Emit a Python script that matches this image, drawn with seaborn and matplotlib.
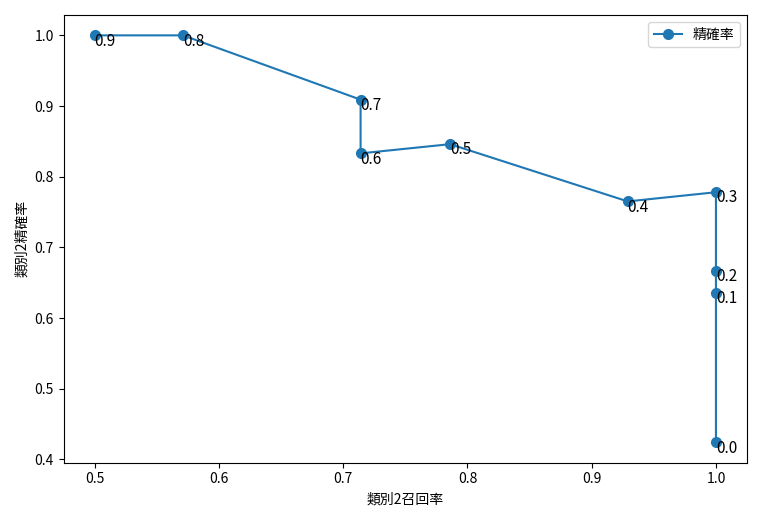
import matplotlib
matplotlib.use("Agg")
import matplotlib.pyplot as plt
import seaborn as sns
import pandas as pd

recall = [0.5, 0.571, 0.714, 0.714, 0.786, 0.929, 1.0, 1.0, 1.0, 1.0]
precision = [1.0, 1.0, 0.909, 0.833, 0.846, 0.765, 0.778, 0.667, 0.636, 0.424]
thresholds = ["0.9", "0.8", "0.7", "0.6", "0.5", "0.4", "0.3", "0.2", "0.1", "0.0"]

plt.rcParams['font.family'] = ['Noto Sans CJK TC', 'DejaVu Sans']
df = pd.DataFrame({"recall": recall, "precision": precision})

fig, ax = plt.subplots(figsize=(7.62, 5.21), dpi=100)
sns.lineplot(data=df, x="recall", y="precision", sort=False, estimator=None,
             marker="o", markersize=8, markeredgewidth=0, color="#1f77b4",
             label="精確率", ax=ax)
for x, y, t in zip(recall, precision, thresholds):
    ax.annotate(t, (x, y), xytext=(0, 2), textcoords="offset points",
                fontsize=11, va="top", ha="left")
ax.set_xlabel("類別2召回率")
ax.set_ylabel("類別2精確率")
ax.legend(loc="upper right")
fig.tight_layout()
fig.savefig("out.png")
